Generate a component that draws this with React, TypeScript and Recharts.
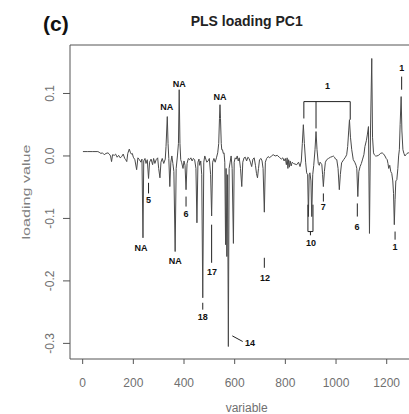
import React from "react";
import { LineChart, Line, XAxis, YAxis, ReferenceLine, ReferenceDot } from "recharts";

const VARIABLE = [
  1, 20, 40, 60, 65, 72, 78, 85, 92, 100, 105, 110, 114, 118, 125, 130, 136, 142, 148, 154, 160, 166, 170, 174, 178, 184, 188, 192, 196, 200,
  206, 213, 218, 224, 230, 234, 238, 241, 246, 250, 255, 260, 264, 270, 276, 280, 285, 290, 296, 300, 305, 309, 314, 320, 326, 329, 334, 337, 340, 344,
  348, 352, 356, 360, 365, 369, 374, 378, 381, 384, 387, 391, 396, 400, 404, 408, 412, 417, 422, 427, 432, 437, 442, 447, 451, 455, 459, 462, 466, 470,
  474, 478, 482, 486, 490, 495, 500, 505, 509, 513, 518, 523, 528, 533, 537, 540, 542, 544, 547, 549, 552, 555, 558, 561, 564, 566, 569, 572, 575, 578,
  582, 586, 590, 595, 598, 602, 606, 610, 614, 618, 623, 628, 632, 637, 642, 647, 652, 657, 662, 667, 672, 677, 682, 686, 690, 694, 698, 704, 708, 712,
  717, 721, 726, 732, 738, 745, 752, 760, 768, 776, 784, 790, 795, 800, 804, 807, 810, 813, 816, 819, 823, 827, 832, 838, 845, 852, 858, 863, 867, 871,
  875, 880, 884, 888, 891, 894, 897, 901, 904, 908, 912, 917, 921, 925, 930, 934, 937, 941, 944, 947, 950, 954, 958, 963, 970, 978, 985, 989, 994, 998,
  1003, 1008, 1013, 1017, 1022, 1030, 1037, 1042, 1046, 1050, 1053, 1057, 1062, 1068, 1074, 1079, 1082, 1086, 1090, 1095, 1100, 1105, 1110, 1114, 1120, 1124, 1128, 1132, 1136, 1141,
  1144, 1148, 1151, 1156, 1161, 1168, 1175, 1182, 1188, 1193, 1198, 1202, 1205, 1208, 1212, 1216, 1220, 1224, 1227, 1230, 1233, 1236, 1240, 1244, 1247, 1250, 1253, 1257, 1260, 1264,
  1268, 1272, 1276, 1280, 1285, 1288,
];

const LOADING = [
  0.007, 0.007, 0.007, 0.007, 0.006, 0.004, 0.005, 0.002, 0.004, 0.005, 0.003, 0.0, -0.009, 0.002, 0.001, 0.003, -0.002, 0.001, -0.003, -0.001, 0.003, -0.004, -0.006, -0.009, 0.004, 0.011, 0.006, 0.003, 0.004, -0.002,
  -0.006, -0.022, -0.003, -0.006, -0.01, -0.005, -0.131, -0.008, -0.004, -0.012, -0.006, -0.036, -0.01, -0.005, -0.014, -0.004, -0.012, -0.006, -0.003, -0.02, -0.035, -0.01, -0.004, -0.012, -0.005, 0.015, 0.063, 0.02, -0.004, -0.049,
  -0.01, 0.0, -0.012, -0.025, -0.153, -0.02, 0.0, 0.02, 0.106, 0.02, -0.006, -0.011, -0.02, -0.008, -0.015, -0.054, -0.012, -0.004, -0.006, -0.003, -0.008, -0.004, -0.006, -0.02, -0.107, -0.01, -0.005, -0.015, -0.008, -0.03,
  -0.227, -0.01, 0.0, -0.005, -0.01, -0.008, -0.004, -0.03, -0.096, -0.01, -0.004, -0.01, -0.003, 0.005, 0.02, 0.06, 0.082, 0.06, 0.02, 0.01, 0.01, 0.004, 0.005, -0.01, -0.142, -0.02, -0.161, -0.03, -0.305, -0.02,
  -0.01, 0.0, -0.02, -0.14, -0.01, -0.003, -0.005, 0.0, -0.008, -0.003, -0.02, -0.049, -0.01, -0.003, -0.002, -0.008, -0.002, -0.004, -0.01, -0.017, -0.005, -0.003, -0.015, -0.028, -0.035, -0.02, -0.006, -0.004, -0.008, -0.02,
  -0.09, -0.01, -0.004, -0.001, -0.003, 0.0, 0.002, 0.0, 0.001, -0.002, -0.005, -0.003, -0.008, -0.004, -0.014, -0.003, -0.02, -0.006, -0.018, -0.008, -0.016, -0.01, -0.012, -0.013, -0.014, -0.01, -0.017, -0.008, 0.02, 0.05,
  0.02, -0.01, -0.027, -0.03, -0.097, -0.03, -0.027, -0.04, -0.097, -0.03, -0.015, 0.01, 0.039, 0.01, -0.012, -0.015, -0.01, -0.012, -0.014, -0.03, -0.049, -0.025, -0.01, -0.006, -0.004, -0.002, -0.001, 0.0, -0.002, -0.005,
  -0.006, -0.02, -0.054, -0.03, -0.011, -0.006, -0.002, 0.002, 0.015, 0.04, 0.058, 0.03, 0.01, -0.006, -0.01, -0.015, -0.02, -0.065, -0.025, -0.017, -0.012, -0.005, 0.002, 0.015, 0.025, 0.035, 0.047, -0.124, 0.04, 0.156,
  0.03, 0.005, 0.002, 0.0, 0.0, 0.001, 0.004, 0.005, 0.003, 0.0, -0.004, -0.006, -0.012, -0.02, -0.015, -0.025, -0.028, -0.04, -0.06, -0.11, -0.07, -0.04, -0.038, -0.02, 0.0, 0.01, 0.05, 0.095, 0.04, 0.01,
  0.004, 0.0, 0.002, 0.004, 0.005, 0.005,
];

const X_TICKS = [0, 200, 400, 600, 800, 1000, 1200];
const Y_TICKS = [-0.3, -0.2, -0.1, 0, 0.1];
const X_DOMAIN = [-50, 1288];
const Y_DOMAIN = [-0.325, 0.1776];

const LABEL_TEXT = ["NA", "5", "NA", "NA", "NA", "6", "18", "17", "NA", "14", "12", "10", "7", "6", "1", "1", "1"];
const LABEL_X = [230.5, 260, 331.6, 365.6, 381.4, 408, 474, 510, 542, 660, 720, 901, 950, 1083, 1233, 1259, 966];
const LABEL_Y = [-0.147, -0.07, 0.078, -0.168, 0.115, -0.093, -0.258, -0.185, 0.095, -0.3, -0.196, -0.139, -0.082, -0.113, -0.146, 0.14, 0.112];

const LEADERS = [
  [260, -0.043, 260, -0.06],
  [408, -0.065, 408, -0.081],
  [474, -0.235, 474, -0.246],
  [509, -0.11, 509, -0.171],
  [590.6, -0.288, 631.7, -0.297],
  [717, -0.163, 717, -0.179],
  [889, -0.078, 889, -0.121],
  [909, -0.078, 909, -0.121],
  [889, -0.121, 909, -0.121],
  [899, -0.121, 899, -0.127],
  [950, -0.06, 950, -0.073],
  [1084, -0.076, 1084, -0.097],
  [1233, -0.121, 1233, -0.134],
  [1259, 0.127, 1259, 0.106],
  [873, 0.087, 1056, 0.087],
  [873, 0.087, 873, 0.06],
  [921, 0.087, 921, 0.044],
  [1056, 0.087, 1056, 0.058],
];

const data = VARIABLE.map((x, i) => ({ x, y: LOADING[i] }));

const FONT = "'Liberation Sans', Arial, Helvetica, sans-serif";
const AXIS = "#555";

const XTick = (props: any) => {
  const { x, y, payload } = props;
  return (
    <text x={x} y={y + 21} textAnchor="middle" fontSize={12} fill="#707070" fontFamily={FONT}>
      {payload.value}
    </text>
  );
};

const YTick = (props: any) => {
  const { x, y, payload } = props;
  const v = Number(payload.value);
  const s = v === 0 ? "0.0" : v.toFixed(1);
  const bx = x - 7;
  return (
    <text x={bx} y={y} transform={`rotate(-90, ${bx}, ${y})`} textAnchor="middle" fontSize={12} fill="#707070" fontFamily={FONT}>
      {s}
    </text>
  );
};

const AnnLabel = (text: string) => (p: any) => {
  const vb = p.viewBox || {};
  const cx = vb.x + (vb.width || 0) / 2;
  const cy = vb.y + (vb.height || 0) / 2;
  return (
    <text x={cx} y={cy + 3} textAnchor="middle" fontSize={9} fontWeight="bold" fill="#111" fontFamily={FONT}>
      {text}
    </text>
  );
};

export default function App() {
  return (
    <div style={{ position: "relative", paddingLeft: 8, paddingTop: 8, width: 401, height: 406 }}>
      <style>{"html,body{margin:0;padding:0;overflow:hidden;}"}</style>
      <div style={{ position: "relative", width: 401, height: 406 }}>
        <LineChart width={401} height={406} data={data} margin={{ top: 37, right: 0, bottom: 0, left: 0 }}>
          <XAxis
            type="number"
            dataKey="x"
            domain={X_DOMAIN}
            ticks={X_TICKS}
            allowDataOverflow
            height={55}
            stroke={AXIS}
            tickSize={5}
            tick={<XTick />}
          />
          <YAxis
            type="number"
            domain={Y_DOMAIN}
            ticks={Y_TICKS}
            allowDataOverflow
            width={62}
            stroke={AXIS}
            tickSize={7}
            tick={<YTick />}
          />
          <ReferenceLine y={Y_DOMAIN[1]} stroke={AXIS} ifOverflow="visible" />
          <Line type="linear" dataKey="y" stroke="#4a4a4a" strokeWidth={1} dot={false} isAnimationActive={false} />
          {LEADERS.map((s, i) => (
            <ReferenceLine
              key={"l" + i}
              segment={[{ x: s[0], y: s[1] }, { x: s[2], y: s[3] }]}
              stroke="#222"
              strokeWidth={1}
              ifOverflow="visible"
            />
          ))}
          {LABEL_TEXT.map((t, i) => (
            <ReferenceDot
              key={"t" + i}
              x={LABEL_X[i]}
              y={LABEL_Y[i]}
              r={0}
              fill="none"
              stroke="none"
              ifOverflow="visible"
              label={{ content: AnnLabel(t) }}
            />
          ))}
        </LineChart>
        <svg width={401} height={406} style={{ position: "absolute", left: 0, top: 0, pointerEvents: "none" }}>
          <text x={35} y={23} fontSize={21} fontWeight="bold" fill="#111" fontFamily={FONT}>(c)</text>
          <text x={238.7} y={17.5} textAnchor="middle" fontSize={14} fontWeight="bold" fill="#222" fontFamily={FONT}>PLS loading PC1</text>
          <text x={238.7} y={404} textAnchor="middle" fontSize={12} fill="#707070" fontFamily={FONT}>variable</text>
          <text
            x={22}
            y={184}
            transform="rotate(-90, 22, 184)"
            textAnchor="middle"
            fontSize={11}
            fill="#808080"
            fontFamily={FONT}
            textLength={95}
            lengthAdjust="spacingAndGlyphs"
          >
            loading value
          </text>
        </svg>
      </div>
    </div>
  );
}
